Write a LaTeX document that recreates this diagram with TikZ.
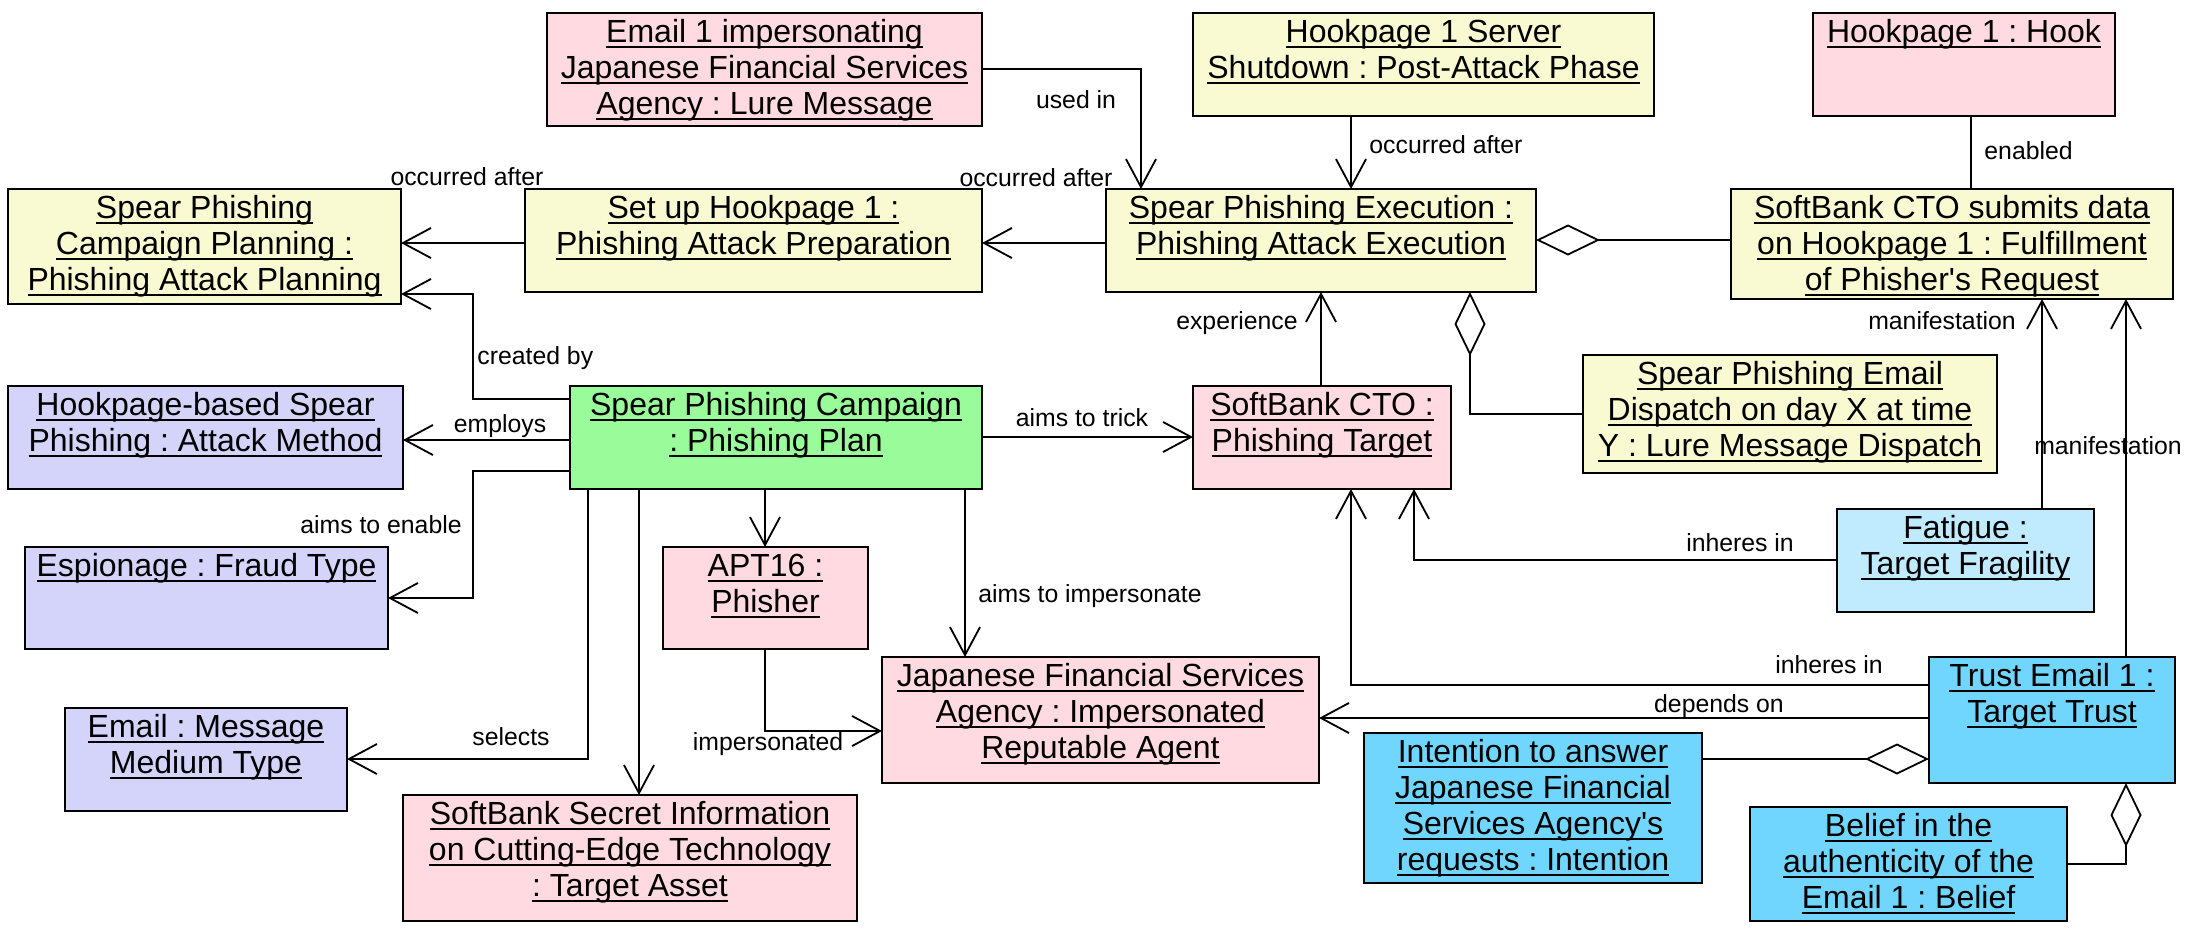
\documentclass[tikz,border=0pt]{standalone}
\usepackage{fontspec}
\setmainfont{Liberation Sans}
\usetikzlibrary{arrows.meta}
\frenchspacing
\newcommand\ulx[1]{\setbox0\hbox{#1}\rlap{\rule[-0.16em]{\wd0}{0.07em}}\strut\box0}
\newcommand\boxfont{\frenchspacing\fontsize{16}{18}\selectfont}
\newcommand\lblfont{\frenchspacing\fontsize{12.4}{14}\selectfont}
\definecolor{cyel}{HTML}{FAFAD2}
\definecolor{cpink}{HTML}{FFDAE0}
\definecolor{clav}{HTML}{D4D4FA}
\definecolor{cgreen}{HTML}{9AFB9A}
\definecolor{clblue}{HTML}{C0EBFF}
\definecolor{cblue}{HTML}{70D6FE}
\tikzset{
  objbox/.style={draw, line width=1.2pt, anchor=north west, inner sep=0pt, outer sep=0pt},
  objtxt/.style={anchor=north, align=center, inner sep=0pt, yshift=-2.1pt, font=\boxfont},
  conn/.style={draw, line width=0.9pt},
  nav/.style={conn, -{Straight Barb[length=14pt, width=15pt]}},
  agg/.style={conn, {Diamond[length=32pt, width=15.5pt, fill=white]}-},
  lbl/.style={font=\lblfont, inner sep=0pt},
}
\newcommand\obj[7]{%
  \pgfmathsetmacro\objw{(#4-#2)*0.5}%
  \pgfmathsetmacro\objh{(#5-#3)*0.5}%
  \node[objbox, fill=#6, minimum width=\objw pt, minimum height=\objh pt,
        label={[objtxt, name=#1-t]north:{#7}}] (#1) at (#2,#3) {};%
}
\begin{document}
\begin{tikzpicture}[x=0.5pt, y=-0.5pt]
\useasboundingbox (0,0) rectangle (2200,933);
\fill[white] (0,0) rectangle (2200,933);

% objects
\obj{email1}{547}{13}{982}{126}{cpink}{\ulx{Email 1 impersonating}\\\ulx{Japanese Financial Services}\\\ulx{Agency : Lure Message}}
\obj{server}{1193}{13}{1654}{116}{cyel}{\ulx{Hookpage 1 Server}\\\ulx{Shutdown : Post-Attack Phase}}
\obj{hook}{1813}{13}{2115}{116}{cpink}{\ulx{Hookpage 1 : Hook}}
\obj{planning}{8}{189}{401}{304}{cyel}{\ulx{Spear Phishing}\\\ulx{Campaign Planning :}\\\ulx{Phishing Attack Planning}}
\obj{setup}{525}{189}{982}{292}{cyel}{\ulx{Set up Hookpage 1 :}\\\ulx{Phishing Attack Preparation}}
\obj{exec}{1106}{189}{1536}{292}{cyel}{\ulx{Spear Phishing Execution :}\\\ulx{Phishing Attack Execution}}
\obj{ctosub}{1731}{189}{2173}{299}{cyel}{\ulx{SoftBank CTO submits data}\\\ulx{on Hookpage 1 : Fulfillment}\\\ulx{of Phisher\textquotesingle s Request}}
\obj{method}{8}{386}{403}{489}{clav}{\ulx{Hookpage-based Spear}\\\ulx{Phishing : Attack Method}}
\obj{plan}{570}{386}{982}{489}{cgreen}{\ulx{Spear Phishing Campaign}\\\ulx{: Phishing Plan}}
\obj{cto}{1193}{386}{1451}{489}{cpink}{\ulx{SoftBank CTO :}\\\ulx{Phishing Target}}
\obj{dispatch}{1583}{355}{1997}{473}{cyel}{\ulx{Spear Phishing Email}\\\ulx{Dispatch on day X at time}\\\ulx{Y : Lure Message Dispatch}}
\obj{espionage}{25}{547}{388}{649}{clav}{\ulx{Espionage : Fraud Type}}
\obj{apt}{663}{547}{868}{649}{cpink}{\ulx{APT16 :}\\\ulx{Phisher}}
\obj{fatigue}{1837}{509}{2094}{612}{clblue}{\ulx{Fatigue :}\\\ulx{Target Fragility}}
\obj{jfsa}{882}{657}{1319}{783}{cpink}{\ulx{Japanese Financial Services}\\\ulx{Agency : Impersonated}\\\ulx{Reputable Agent}}
\obj{trust}{1929}{657}{2175}{783}{cblue}{\ulx{Trust Email 1 :}\\\ulx{Target Trust}}
\obj{medium}{65}{708}{347}{811}{clav}{\ulx{Email : Message}\\\ulx{Medium Type}}
\obj{asset}{403}{795}{857}{921}{cpink}{\ulx{SoftBank Secret Information}\\\ulx{on Cutting-Edge Technology}\\\ulx{: Target Asset}}
\obj{intention}{1364}{733}{1702}{883}{cblue}{\ulx{Intention to answer}\\\ulx{Japanese Financial}\\\ulx{Services Agency\textquotesingle s}\\\ulx{requests : Intention}}
\obj{belief}{1750}{807}{2067}{921}{cblue}{\ulx{Belief in the}\\\ulx{authenticity of the}\\\ulx{Email 1 : Belief}}

% labels
\node[lbl] (l-a) at (467,177) {occurred after};
\node[lbl] (l-b) at (1036,178) {occurred after};
\node[lbl] (l-c) at (1076,100) {used in};
\node[lbl, anchor=west] (l-d) at (1369,145) {occurred after};
\node[lbl, anchor=west] (l-e) at (1984,151) {enabled};
\node[lbl, anchor=west] (l-g) at (477,358) {created by};
\node[lbl] (l-h) at (500,426) {employs};
\node[lbl] (l-i) at (381,525) {aims to enable};
\node[lbl] (l-j) at (511,737) {selects};
\node[lbl, anchor=west] (l-m) at (978,596) {aims to impersonate};
\node[lbl] (l-n) at (1082,418) {aims to trick};
\node[lbl] (l-o) at (768,744) {impersonated};
\node[lbl, anchor=east] (l-p) at (1298,323) {experience};
\node[lbl] (l-r) at (1740,543) {inheres in};
\node[lbl] (l-s) at (1829,665) {inheres in};
\node[lbl] (l-t) at (1719,706) {depends on};
\node[lbl] (l-u) at (1942,321) {manifestation};
\node[lbl] (l-v) at (2108,446) {manifestation};

% connectors
\draw[nav] (setup.west |- 0,243) -- (planning.east |- 0,243);
\draw[nav] (exec.west |- 0,243) -- (setup.east |- 0,243);
\draw[nav] (email1.east |- 0,69) -| (exec.north -| 1141,0);
\draw[nav] (server.south -| 1351,0) -- (exec.north -| 1351,0);
\draw[conn] (hook.south -| 1971,0) -- (ctosub.north -| 1971,0);
\draw[agg] (exec.east |- 0,240) -- (ctosub.west |- 0,240);
\draw[nav] (plan.west |- 0,399) -| (473,294) -- (planning.east |- 0,294);
\draw[nav] (plan.west |- 0,440) -- (method.east |- 0,440);
\draw[nav] (plan.west |- 0,471) -| (473,598) -- (espionage.east |- 0,598);
\draw[nav] (plan.south -| 588,0) |- (medium.east |- 0,759);
\draw[nav] (plan.south -| 639,0) -- (asset.north -| 639,0);
\draw[nav] (plan.south -| 765,0) -- (apt.north -| 765,0);
\draw[nav] (plan.south -| 965,0) -- (jfsa.north -| 965,0);
\draw[nav] (plan.east |- 0,437) -- (cto.west |- 0,437);
\draw[nav] (apt.south -| 765,0) |- (jfsa.west |- 0,731);
\draw[nav] (cto.north -| 1321,0) -- (exec.south -| 1321,0);
\draw[agg] (exec.south -| 1470,0) |- (dispatch.west |- 0,414);
\draw[nav] (fatigue.west |- 0,560) -| (cto.south -| 1414,0);
\draw[nav] (trust.west |- 0,685) -| (cto.south -| 1351,0);
\draw[nav] (trust.west |- 0,718) -- (jfsa.east |- 0,718);
\draw[nav] (fatigue.north -| 2042,0) -- (ctosub.south -| 2042,0);
\draw[nav] (trust.north -| 2126,0) -- (ctosub.south -| 2126,0);
\draw[agg] (trust.west |- 0,759) -- (intention.east |- 0,759);
\draw[agg] (trust.south -| 2126,0) |- (belief.east |- 0,864);
\end{tikzpicture}
\end{document}
